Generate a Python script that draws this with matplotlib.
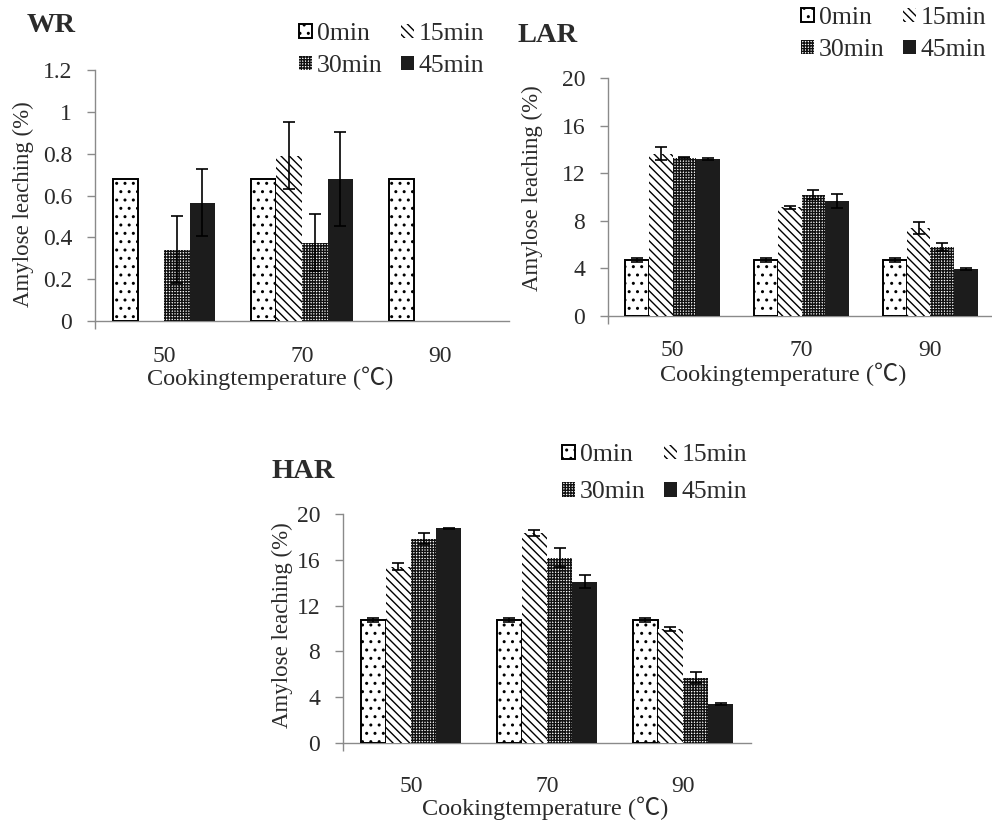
import matplotlib
matplotlib.use('Agg')
import matplotlib.pyplot as plt
import numpy as np

plt.rcParams['font.family'] = ['Liberation Serif', 'Noto Sans CJK SC', 'DejaVu Sans']
plt.rcParams['hatch.linewidth'] = 1.0

temps = ['50', '70', '90']
times = ['0min', '15min', '30min', '45min']

# amylose leaching (%), rows = cooking time, cols = temperature
wr_vals = [[0.68, 0.68, 0.68],
           [0.0, 0.79, 0.0],
           [0.34, 0.375, 0.0],
           [0.565, 0.68, 0.0]]
wr_err = [[0, 0, 0],
          [0, 0.16, 0],
          [0.16, 0.135, 0],
          [0.16, 0.225, 0]]

lar_vals = [[4.7, 4.7, 4.7],
            [13.65, 9.15, 7.4],
            [13.3, 10.2, 5.8],
            [13.2, 9.65, 3.95]]
lar_err = [[0.2, 0.2, 0.2],
           [0.55, 0.12, 0.5],
           [0.05, 0.35, 0.35],
           [0.05, 0.6, 0.05]]

har_vals = [[10.75, 10.75, 10.75],
            [15.4, 18.35, 9.95],
            [17.85, 16.2, 5.7],
            [18.75, 14.1, 3.4]]
har_err = [[0.2, 0.2, 0.2],
           [0.3, 0.25, 0.2],
           [0.45, 0.8, 0.5],
           [0.03, 0.6, 0.05]]

W, H = 992, 823
fig = plt.figure(figsize=(W / 100, H / 100), dpi=100)


def fx(px):
    return px / W


def fy(py):
    return 1 - py / H


styles = [dict(facecolor='white', edgecolor='black', linewidth=1.4, hatch='..'),
          dict(facecolor='white', edgecolor='black', linewidth=0, hatch='\\\\\\\\'),
          dict(facecolor='white', edgecolor='#111111', linewidth=0, hatch='++++++'),
          dict(facecolor='#1c1c1c', edgecolor='#1c1c1c', linewidth=0)]

width = 0.185
x = np.arange(len(temps))
axis_gray = '#8a8a8a'
text_col = '#2b2b2b'


def panel(box, vals, errs, ymax, ystep, yfmt, title, title_xy, ylab_xy, xlab_xy,
          leg_xy, leg_space, xpad):
    left, top, right, bottom = box
    ax = fig.add_axes([fx(left), fy(bottom), fx(right - left), (bottom - top) / H])
    for i in range(4):
        pos = x + (i - 1.5) * width
        ax.bar(pos, vals[i], width, label=times[i], zorder=3, **styles[i])
        e = np.array(errs[i], dtype=float)
        v = np.array(vals[i], dtype=float)
        m = e > 0
        ax.errorbar(pos[m], v[m], yerr=e[m], fmt='none', ecolor='black',
                    elinewidth=1.2, capsize=4.5, capthick=1.2, zorder=4)
    ax.set_xlim(-0.5, 2.5)
    ax.set_ylim(0, ymax)
    yt = np.arange(0, ymax + ystep / 2, ystep)
    ax.set_yticks(yt)
    ax.set_yticklabels([yfmt(t) for t in yt])
    ax.set_xticks(x)
    ax.set_xticklabels(temps)
    ax.set_xticks([-0.5], minor=True)
    for s in ['top', 'right']:
        ax.spines[s].set_visible(False)
    for s in ['left', 'bottom']:
        ax.spines[s].set_color(axis_gray)
        ax.spines[s].set_linewidth(1.0)
    ax.tick_params(axis='y', direction='out', length=5.5, width=1.0, color=axis_gray,
                   labelsize=17, labelcolor=text_col, pad=11)
    ax.tick_params(axis='x', which='major', length=0, labelsize=17, labelcolor=text_col, pad=xpad)
    ax.tick_params(axis='x', which='minor', direction='out', length=5.5, width=1.0, color=axis_gray)
    ax.set_ylabel('Amylose leaching (%)', fontsize=16.5, color=text_col, va='center')
    ax.yaxis.set_label_coords(fx(ylab_xy[0]), fy(ylab_xy[1]), transform=fig.transFigure)
    ax.set_xlabel('Cookingtemperature (℃)', fontsize=17.5, color=text_col, va='center')
    ax.xaxis.set_label_coords(fx(xlab_xy[0]), fy(xlab_xy[1]), transform=fig.transFigure)
    fig.text(fx(title_xy[0]), fy(title_xy[1]), title, fontsize=20.5, fontweight='bold',
             color=text_col, ha='left', va='baseline')
    h, l = ax.get_legend_handles_labels()
    order = [0, 2, 1, 3]
    ax.legend([h[k] for k in order], [l[k] for k in order], ncol=2, frameon=False,
              fontsize=18.5, loc='upper left',
              bbox_to_anchor=(fx(leg_xy[0]), fy(leg_xy[1])), bbox_transform=fig.transFigure,
              borderpad=0, borderaxespad=0, handlelength=0.5, handleheight=0.5,
              handletextpad=0.2, columnspacing=0.7, labelspacing=leg_space,
              labelcolor=text_col)
    return ax


def fmt_wr(t):
    return '0' if t == 0 else ('1' if abs(t - 1) < 1e-9 else '%.1f' % t)


def fmt_int(t):
    return '%d' % t


panel((95, 70, 509, 321), wr_vals, wr_err, 1.2, 0.2, fmt_wr, 'WR', (27, 32),
      (23, 204), (270, 378), (299, 23), 0.4, 18)
panel((608, 78, 995, 316), lar_vals, lar_err, 20, 4, fmt_int, 'LAR', (517, 42),
      (532, 188), (783, 374), (801, 7), 0.4, 17)
panel((343, 514, 751, 743), har_vals, har_err, 20, 4, fmt_int, 'HAR', (272, 478),
      (282, 625), (545, 808), (562, 444), 0.6, 24)

fig.savefig('out.png', dpi=100)
